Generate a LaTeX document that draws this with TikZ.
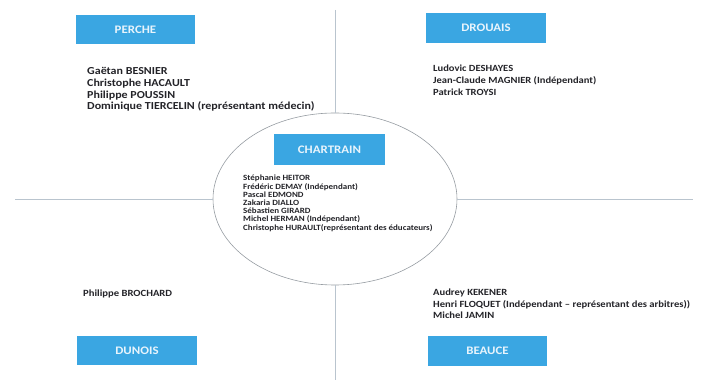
\documentclass[tikz,border=0pt]{standalone}
\usepackage{fontspec}
\setmainfont{Carlito}[FakeStretch=1.12]
\usetikzlibrary{shapes.geometric}
\definecolor{boxblue}{RGB}{58,166,226}
\definecolor{boxtext}{RGB}{232,244,252}
\definecolor{linegray}{RGB}{185,196,206}
\definecolor{ellgray}{RGB}{150,156,162}
\definecolor{txt}{RGB}{35,35,40}
\tikzset{
  regionbox/.style={fill=boxblue, draw=none, minimum width=119pt, minimum height=29pt, inner sep=0pt, text=boxtext, font=\bfseries\fontsize{11.5}{12}\selectfont},
  names/.style={anchor=north west, align=left, inner sep=0pt, text=txt},
  divider/.style={draw=linegray, line width=0.6pt},
}
\begin{document}
\begin{tikzpicture}[x=1pt,y=1pt]
\useasboundingbox (0,0) rectangle (713,380);
\node[ellipse, draw=ellgray, line width=0.6pt, minimum width=244pt, minimum height=172pt] (ell) at (335,181) {};
\coordinate (lft) at (15,181);
\coordinate (rgt) at (693,181);
\coordinate (top) at (335,370);
\coordinate (bot) at (335,0);
\draw[divider] (lft) -- (ell.west);
\draw[divider] (ell.east) -- (rgt);
\draw[divider] (top) -- (ell.north);
\draw[divider] (ell.south) -- (bot);

\node[regionbox] (perche) at (135.5,350.5) {PERCHE};
\node[regionbox, minimum width=120pt, minimum height=30pt] (drouais) at (486,352) {DROUAIS};
\node[regionbox, minimum width=111pt, minimum height=31pt] (chartrain) at (329.5,230) {CHARTRAIN};
\node[regionbox, minimum width=120pt] (dunois) at (137,29.5) {DUNOIS};
\node[regionbox, minimum height=30pt] (beauce) at (487.5,29) {BEAUCE};

\node[names, font=\bfseries\fontsize{10.7}{11.8}\selectfont] (perchelist) at (87,313) {Gaëtan BESNIER\\Christophe HACAULT\\Philippe POUSSIN\\Dominique TIERCELIN (représentant médecin)};
\node[names, font=\bfseries\fontsize{9.4}{12}\selectfont] (drouaislist) at (433,315) {Ludovic DESHAYES\\Jean-Claude MAGNIER (Indépendant)\\Patrick TROYSI};
\node[names, font=\bfseries\fontsize{8}{8.2}\selectfont] (chartrainlist) at (243,205) {Stéphanie HEITOR\\Frédéric DEMAY (Indépendant)\\Pascal EDMOND\\Zakaria DIALLO\\Sébastien GIRARD\\Michel HERMAN (Indépendant)\\Christophe HURAULT(représentant des éducateurs)};
\node[names, font=\bfseries\fontsize{9.5}{11.5}\selectfont] (dunoislist) at (83,90) {Philippe BROCHARD};
\node[names, font=\bfseries\fontsize{9.45}{11.5}\selectfont] (beaucelist) at (433,91) {Audrey KEKENER\\Henri FLOQUET (Indépendant – représentant des arbitres))\\Michel JAMIN};
\end{tikzpicture}
\end{document}
